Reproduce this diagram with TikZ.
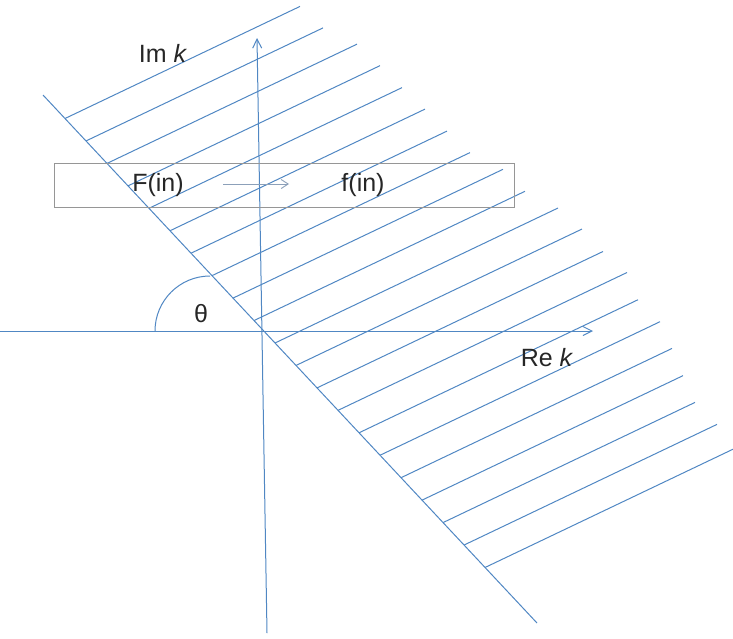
\documentclass[tikz,border=0pt]{standalone}
\usepackage{fontspec}
\setmainfont{Liberation Sans}
\usetikzlibrary{arrows.meta}
\definecolor{lineblue}{RGB}{80,135,195}
\definecolor{boxgray}{RGB}{150,150,150}
\definecolor{arrgray}{RGB}{140,160,185}
\tikzset{
  axis/.style={draw=lineblue, line width=1pt, -{Straight Barb[length=9pt,width=9pt]}},
  hatch/.style={draw=lineblue, line width=1pt},
  boundary/.style={draw=lineblue, line width=1pt},
  lbl/.style={font=\fontsize{25}{28}\selectfont, text=black!85, inner sep=0pt},
  framebox/.style={draw=boxgray, line width=0.9pt},
  maparrow/.style={draw=arrgray, line width=0.9pt, -{Straight Barb[length=7pt,width=9pt]}}
}
\begin{document}
\begin{tikzpicture}[x=1pt,y=-1pt]
\useasboundingbox (0,0) rectangle (733,638);
% hatch lines
\foreach \i/\ex in {0/300,1/323,2/357,3/380,4/402,5/425,6/447,7/470,8/503,9/525,10/558,11/582,12/603,13/627,14/638,15/660,16/672,17/683,18/695,19/717,20/740}{
  \pgfmathsetmacro{\sx}{65+21*\i}
  \pgfmathsetmacro{\sy}{118.5+22.45*\i}
  \pgfmathsetmacro{\ey}{\sy-0.477*(\ex-\sx)}
  \draw[hatch] (\sx,\sy) -- (\ex,\ey);
}
% boundary line
\coordinate (b1) at (43,95);
\coordinate (b2) at (537,623);
\draw[boundary] (b1) -- (b2);
% axes
\coordinate (xl) at (0,331);
\coordinate (xr) at (593,331);
\coordinate (yb) at (267,633);
\coordinate (yt) at (257,38);
\draw[axis] (xl) -- (xr);
\draw[axis] (yb) -- (yt);
% angle arc
\coordinate (a1) at (155,331);
\draw[boundary] (a1) arc[start angle=180, end angle=270, radius=55];
% box
\draw[framebox] (54,163) rectangle (514,207);
\node[lbl] (Fin) at (158,185) {F(in)};
\node[lbl] (fin) at (363,185) {f(in)};
\coordinate (m1) at (223,184);
\coordinate (m2) at (289,184);
\draw[maparrow] (m1) -- (m2);
% labels
\node[lbl] (im) at (163,53) {Im \textit{k}};
\node[lbl] (re) at (547,358) {Re \textit{k}};
\node[lbl] (th) at (201,314) {θ};
\end{tikzpicture}
\end{document}
